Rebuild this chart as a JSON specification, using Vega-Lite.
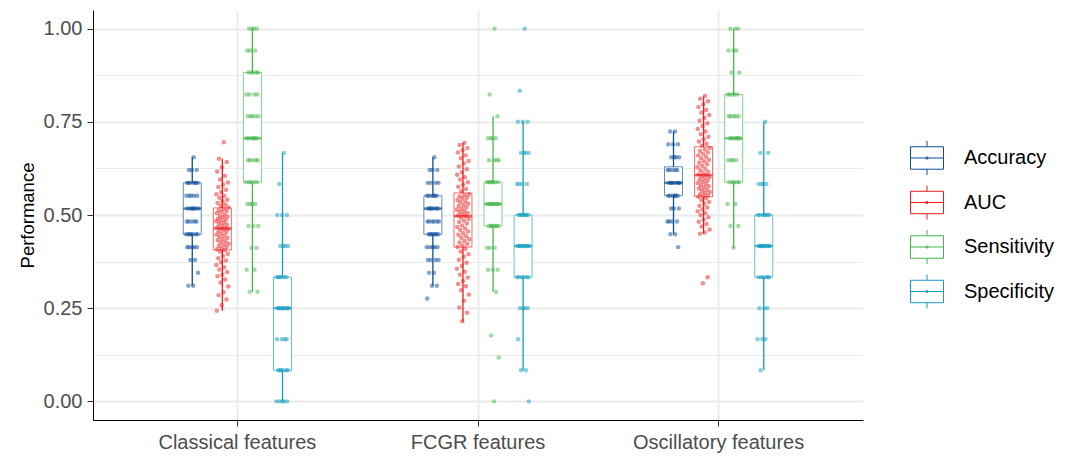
{
  "$schema": "https://vega.github.io/schema/vega-lite/v6.json",
  "width": 770,
  "height": 410,
  "autosize": "none",
  "padding": {"left": 93, "top": 10, "right": 206, "bottom": 36},
  "background": "white",
  "config": {
    "view": {"stroke": null},
    "font": "Liberation Sans",
    "axis": {
      "labelFont": "Liberation Sans",
      "titleFont": "Liberation Sans",
      "labelFontSize": 20,
      "labelColor": "#4d4d4d",
      "domainColor": "black",
      "domainWidth": 1,
      "tickColor": "#333333",
      "tickWidth": 1,
      "tickSize": 6,
      "gridColor": "#ebebeb"
    },
    "legend": {"labelFont": "Liberation Sans"}
  },
  "datasets": {
    "boxes": [
      {"feature": "Classical features", "metric": "Accuracy", "lower": 0.3103, "q1": 0.4483, "median": 0.5172, "q3": 0.5862, "upper": 0.6552},
      {"feature": "Classical features", "metric": "AUC", "lower": 0.243, "q1": 0.406, "median": 0.464, "q3": 0.519, "upper": 0.651},
      {"feature": "Classical features", "metric": "Sensitivity", "lower": 0.2941, "q1": 0.5882, "median": 0.7059, "q3": 0.8824, "upper": 1},
      {"feature": "Classical features", "metric": "Specificity", "lower": 0, "q1": 0.0833, "median": 0.25, "q3": 0.3333, "upper": 0.6667},
      {"feature": "FCGR features", "metric": "Accuracy", "lower": 0.3103, "q1": 0.4483, "median": 0.5172, "q3": 0.5517, "upper": 0.6552},
      {"feature": "FCGR features", "metric": "AUC", "lower": 0.2136, "q1": 0.414, "median": 0.497, "q3": 0.559, "upper": 0.6935},
      {"feature": "FCGR features", "metric": "Sensitivity", "lower": 0.2941, "q1": 0.4706, "median": 0.5294, "q3": 0.5882, "upper": 0.7647},
      {"feature": "FCGR features", "metric": "Specificity", "lower": 0.0833, "q1": 0.3333, "median": 0.4167, "q3": 0.5, "upper": 0.75},
      {"feature": "Oscillatory features", "metric": "Accuracy", "lower": 0.4483, "q1": 0.5517, "median": 0.5862, "q3": 0.6293, "upper": 0.7241},
      {"feature": "Oscillatory features", "metric": "AUC", "lower": 0.4495, "q1": 0.549, "median": 0.607, "q3": 0.683, "upper": 0.8186},
      {"feature": "Oscillatory features", "metric": "Sensitivity", "lower": 0.4118, "q1": 0.5882, "median": 0.7059, "q3": 0.8235, "upper": 1},
      {"feature": "Oscillatory features", "metric": "Specificity", "lower": 0.0833, "q1": 0.3333, "median": 0.4167, "q3": 0.5, "upper": 0.75}
    ],
    "points": [
      {"feature": "Classical features", "metric": "Accuracy", "value": [0.6552, 0.6207, 0.6207, 0.6207, 0.5862, 0.5862, 0.5862, 0.5862, 0.5862, 0.5862, 0.5862, 0.5517, 0.5517, 0.5517, 0.5517, 0.5517, 0.5172, 0.5172, 0.5172, 0.5172, 0.5172, 0.5172, 0.4828, 0.4828, 0.4828, 0.4828, 0.4828, 0.4483, 0.4483, 0.4483, 0.4483, 0.4483, 0.4483, 0.4483, 0.4138, 0.4138, 0.4138, 0.4138, 0.4138, 0.3793, 0.3793, 0.3448, 0.3103, 0.3103]},
      {"feature": "Classical features", "metric": "AUC", "value": [0.695, 0.651, 0.642, 0.628, 0.617, 0.605, 0.595, 0.587, 0.581, 0.575, 0.568, 0.562, 0.556, 0.551, 0.546, 0.541, 0.537, 0.532, 0.528, 0.524, 0.52, 0.517, 0.513, 0.511, 0.509, 0.505, 0.501, 0.498, 0.496, 0.494, 0.49, 0.487, 0.485, 0.483, 0.48, 0.477, 0.474, 0.471, 0.468, 0.466, 0.464, 0.462, 0.459, 0.456, 0.453, 0.45, 0.447, 0.444, 0.441, 0.438, 0.435, 0.432, 0.429, 0.426, 0.423, 0.42, 0.417, 0.414, 0.411, 0.408, 0.406, 0.402, 0.396, 0.39, 0.384, 0.378, 0.373, 0.366, 0.36, 0.354, 0.347, 0.34, 0.336, 0.327, 0.319, 0.308, 0.293, 0.285, 0.273, 0.258, 0.243]},
      {"feature": "Classical features", "metric": "Sensitivity", "value": [1, 1, 1, 1, 0.9412, 0.9412, 0.9412, 0.8824, 0.8824, 0.8824, 0.8824, 0.8824, 0.8235, 0.8235, 0.8235, 0.8235, 0.7647, 0.7647, 0.7647, 0.7647, 0.7647, 0.7059, 0.7059, 0.7059, 0.7059, 0.7059, 0.7059, 0.6471, 0.6471, 0.6471, 0.6471, 0.6471, 0.5882, 0.5882, 0.5882, 0.5882, 0.5882, 0.5294, 0.5294, 0.5294, 0.5294, 0.4706, 0.4706, 0.4706, 0.4118, 0.4118, 0.3529, 0.3529, 0.2941, 0.2941]},
      {"feature": "Classical features", "metric": "Specificity", "value": [0.6667, 0.5833, 0.5, 0.5, 0.5, 0.4167, 0.4167, 0.4167, 0.4167, 0.3333, 0.3333, 0.3333, 0.3333, 0.3333, 0.3333, 0.25, 0.25, 0.25, 0.25, 0.25, 0.25, 0.25, 0.25, 0.1667, 0.1667, 0.1667, 0.1667, 0.0833, 0.0833, 0.0833, 0.0833, 0.0833, 0.0833, 0, 0, 0, 0, 0]},
      {"feature": "FCGR features", "metric": "Accuracy", "value": [0.6552, 0.6207, 0.6207, 0.6207, 0.5862, 0.5862, 0.5862, 0.5862, 0.5517, 0.5517, 0.5517, 0.5517, 0.5517, 0.5517, 0.5172, 0.5172, 0.5172, 0.5172, 0.5172, 0.5172, 0.4828, 0.4828, 0.4828, 0.4828, 0.4828, 0.4828, 0.4483, 0.4483, 0.4483, 0.4483, 0.4483, 0.4483, 0.4483, 0.4138, 0.4138, 0.4138, 0.4138, 0.4138, 0.3793, 0.3793, 0.3793, 0.3793, 0.3448, 0.3448, 0.3103, 0.3103, 0.2759]},
      {"feature": "FCGR features", "metric": "AUC", "value": [0.694, 0.688, 0.68, 0.674, 0.668, 0.66, 0.652, 0.645, 0.638, 0.63, 0.623, 0.615, 0.608, 0.601, 0.595, 0.588, 0.582, 0.576, 0.57, 0.564, 0.556, 0.553, 0.55, 0.547, 0.544, 0.54, 0.537, 0.534, 0.53, 0.527, 0.524, 0.52, 0.517, 0.514, 0.511, 0.508, 0.505, 0.502, 0.499, 0.497, 0.493, 0.489, 0.485, 0.481, 0.477, 0.472, 0.468, 0.464, 0.46, 0.456, 0.451, 0.447, 0.443, 0.439, 0.435, 0.43, 0.426, 0.422, 0.418, 0.414, 0.409, 0.402, 0.395, 0.388, 0.38, 0.372, 0.364, 0.356, 0.348, 0.34, 0.332, 0.323, 0.315, 0.309, 0.298, 0.287, 0.27, 0.252, 0.238, 0.215]},
      {"feature": "FCGR features", "metric": "Sensitivity", "value": [1, 0.8235, 0.7647, 0.7059, 0.7059, 0.7059, 0.7059, 0.6471, 0.6471, 0.6471, 0.6471, 0.5882, 0.5882, 0.5882, 0.5882, 0.5882, 0.5882, 0.5882, 0.5294, 0.5294, 0.5294, 0.5294, 0.5294, 0.5294, 0.5294, 0.5294, 0.4706, 0.4706, 0.4706, 0.4706, 0.4706, 0.4706, 0.4706, 0.4118, 0.4118, 0.4118, 0.3529, 0.3529, 0.3529, 0.2941, 0.1765, 0.1176, 0]},
      {"feature": "FCGR features", "metric": "Specificity", "value": [1, 0.8333, 0.75, 0.75, 0.75, 0.6667, 0.6667, 0.6667, 0.6667, 0.5833, 0.5833, 0.5833, 0.5833, 0.5, 0.5, 0.5, 0.5, 0.5, 0.5, 0.5, 0.4167, 0.4167, 0.4167, 0.4167, 0.4167, 0.4167, 0.4167, 0.4167, 0.3333, 0.3333, 0.3333, 0.3333, 0.3333, 0.3333, 0.25, 0.25, 0.25, 0.25, 0.1667, 0.0833, 0.0833, 0]},
      {"feature": "Oscillatory features", "metric": "Accuracy", "value": [0.7241, 0.7241, 0.6897, 0.6897, 0.6897, 0.6552, 0.6552, 0.6552, 0.6552, 0.6207, 0.6207, 0.6207, 0.6207, 0.6207, 0.5862, 0.5862, 0.5862, 0.5862, 0.5862, 0.5862, 0.5862, 0.5517, 0.5517, 0.5517, 0.5517, 0.5517, 0.5517, 0.5172, 0.5172, 0.5172, 0.4828, 0.4828, 0.4828, 0.4828, 0.4483, 0.4483, 0.4138]},
      {"feature": "Oscillatory features", "metric": "AUC", "value": [0.82, 0.812, 0.805, 0.797, 0.79, 0.782, 0.775, 0.768, 0.76, 0.753, 0.746, 0.739, 0.731, 0.724, 0.717, 0.71, 0.703, 0.697, 0.691, 0.686, 0.68, 0.676, 0.672, 0.668, 0.664, 0.66, 0.656, 0.652, 0.648, 0.644, 0.64, 0.636, 0.632, 0.628, 0.624, 0.62, 0.616, 0.612, 0.609, 0.607, 0.604, 0.601, 0.598, 0.595, 0.592, 0.589, 0.586, 0.583, 0.58, 0.577, 0.574, 0.571, 0.568, 0.565, 0.562, 0.559, 0.556, 0.553, 0.551, 0.549, 0.545, 0.54, 0.535, 0.53, 0.525, 0.52, 0.515, 0.51, 0.505, 0.5, 0.494, 0.488, 0.482, 0.476, 0.469, 0.461, 0.453, 0.45, 0.333, 0.317]},
      {"feature": "Oscillatory features", "metric": "Sensitivity", "value": [1, 1, 1, 0.9412, 0.9412, 0.9412, 0.8824, 0.8824, 0.8235, 0.8235, 0.8235, 0.8235, 0.8235, 0.7647, 0.7647, 0.7647, 0.7647, 0.7647, 0.7059, 0.7059, 0.7059, 0.7059, 0.7059, 0.7059, 0.6471, 0.6471, 0.6471, 0.6471, 0.5882, 0.5882, 0.5882, 0.5882, 0.5882, 0.5294, 0.5294, 0.4706, 0.4706, 0.4118]},
      {"feature": "Oscillatory features", "metric": "Specificity", "value": [0.75, 0.6667, 0.6667, 0.5833, 0.5833, 0.5833, 0.5833, 0.5, 0.5, 0.5, 0.5, 0.5, 0.5, 0.5, 0.4167, 0.4167, 0.4167, 0.4167, 0.4167, 0.4167, 0.4167, 0.4167, 0.4167, 0.3333, 0.3333, 0.3333, 0.3333, 0.3333, 0.3333, 0.25, 0.25, 0.25, 0.1667, 0.1667, 0.1667, 0.0833]}
    ]
  },
  "layer": [
    {
      "data": {"name": "boxes"},
      "mark": {"type": "rule", "strokeWidth": 1.3},
      "encoding": {
        "x": {
          "field": "feature", "type": "nominal",
          "sort": ["Classical features", "FCGR features", "Oscillatory features"],
          "scale": {"paddingInner": 0, "paddingOuter": 0.1},
          "axis": {"title": null, "labelAngle": 0, "bandPosition": 0.5, "grid": true, "gridWidth": 2, "labelPadding": 6}
        },
        "xOffset": {
          "field": "metric", "type": "nominal",
          "scale": {"domain": ["_a", "_b", "Accuracy", "AUC", "Sensitivity", "Specificity", "_c", "_d"], "paddingInner": 0, "paddingOuter": 0}
        },
        "y": {
          "field": "lower", "type": "quantitative", "title": "Performance",
          "scale": {"domain": [-0.05, 1.05], "nice": false, "zero": false},
          "axis": {
            "title": "Performance",
            "titleFontSize": 18.5,
            "titleFontWeight": "normal",
            "titleColor": "black",
            "titlePadding": 6,
            "values": [0, 0.125, 0.25, 0.375, 0.5, 0.625, 0.75, 0.875, 1],
            "labelExpr": "datum.value * 4 % 1 === 0 ? format(datum.value, '.2f') : ''",
            "labelOverlap": false,
            "labelPadding": 5,
            "grid": true,
            "gridWidth": {"condition": {"test": "datum.value * 4 % 1 === 0", "value": 2}, "value": 1},
            "tickOpacity": {"condition": {"test": "datum.value * 4 % 1 === 0", "value": 1}, "value": 0}
          }
        },
        "y2": {"field": "upper"},
        "color": {
          "field": "metric", "type": "nominal",
          "scale": {"domain": ["Accuracy", "AUC", "Sensitivity", "Specificity"], "range": ["#0c4e97", "#ee1c1c", "#45b649", "#139dc0"]},
          "legend": {
            "title": null,
            "orient": "none",
            "legendX": 817,
            "legendY": 131,
            "padding": 0,
            "symbolType": "M-1,-0.68H1V0.68H-1Z M-1,0H1 M0,-0.68V-1.03 M0,0.68V1.03 M0.07,0A0.07,0.07,0,1,1,-0.07,0A0.07,0.07,0,1,1,0.07,0",
            "symbolSize": 1089,
            "symbolStrokeWidth": 1,
            "symbolFillColor": "white",
            "labelFontSize": 20,
            "labelColor": "black",
            "labelOffset": 20,
            "rowPadding": 6.5,
            "encode": {
              "symbols": {
                "update": {
                  "fillOpacity": {"value": 0},
                  "strokeWidth": {"value": 1}
                }
              }
            }
          }
        }
      }
    },
    {
      "data": {"name": "boxes"},
      "mark": {"type": "bar", "width": 18, "filled": false, "fill": "white", "strokeWidth": 1, "strokeOpacity": 0.65},
      "encoding": {
        "x": {"field": "feature", "type": "nominal", "sort": ["Classical features", "FCGR features", "Oscillatory features"]},
        "xOffset": {
          "field": "metric", "type": "nominal",
          "scale": {"domain": ["_a", "_b", "Accuracy", "AUC", "Sensitivity", "Specificity", "_c", "_d"], "paddingInner": 0, "paddingOuter": 0}
        },
        "y": {"field": "q1", "type": "quantitative", "title": "Performance"},
        "y2": {"field": "q3"},
        "color": {"field": "metric", "type": "nominal"}
      }
    },
    {
      "data": {"name": "boxes"},
      "mark": {"type": "tick", "thickness": 2.5, "size": 18},
      "encoding": {
        "x": {"field": "feature", "type": "nominal", "sort": ["Classical features", "FCGR features", "Oscillatory features"]},
        "xOffset": {
          "field": "metric", "type": "nominal",
          "scale": {"domain": ["_a", "_b", "Accuracy", "AUC", "Sensitivity", "Specificity", "_c", "_d"], "paddingInner": 0, "paddingOuter": 0}
        },
        "y": {"field": "median", "type": "quantitative", "title": "Performance"},
        "fill": {
          "field": "metric", "type": "nominal",
          "scale": {"domain": ["Accuracy", "AUC", "Sensitivity", "Specificity"], "range": ["#0c4e97", "#ee1c1c", "#45b649", "#139dc0"]},
          "legend": null
        }
      }
    },
    {
      "data": {"name": "points"},
      "transform": [
        {"flatten": ["value"]},
        {"window": [{"op": "row_number", "as": "idx"}], "groupby": ["feature", "metric"]},
        {"calculate": "indexof(['Accuracy','AUC','Sensitivity','Specificity'], datum.metric) + ((datum.idx * 0.618034) % 1 - 0.5) * 0.42", "as": "pos"}
      ],
      "mark": {"type": "circle", "size": 20, "opacity": 0.5},
      "encoding": {
        "x": {"field": "feature", "type": "nominal", "sort": ["Classical features", "FCGR features", "Oscillatory features"]},
        "xOffset": {"field": "pos", "type": "quantitative", "scale": {"domain": [-2.5, 5.5], "nice": false, "zero": false}},
        "y": {"field": "value", "type": "quantitative", "title": "Performance"},
        "fill": {"field": "metric", "type": "nominal", "legend": null}
      }
    }
  ],
  "resolve": {"scale": {"xOffset": "independent"}}
}
